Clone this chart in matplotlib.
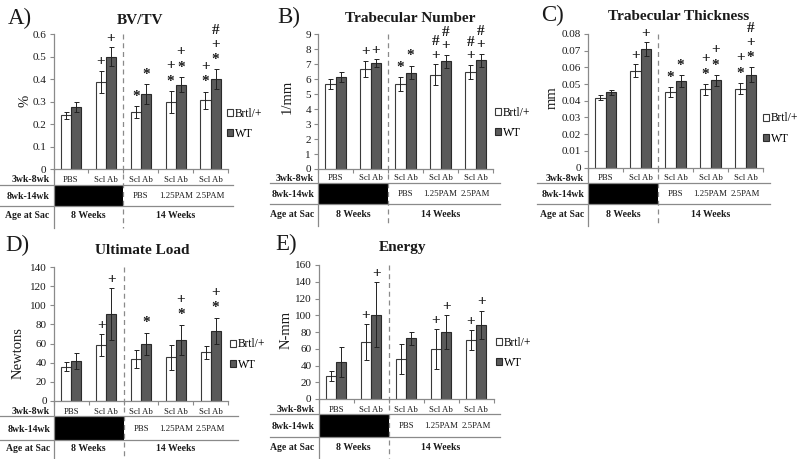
import matplotlib
matplotlib.use('Agg')
import matplotlib.pyplot as plt
from matplotlib.lines import Line2D
from matplotlib.patches import Rectangle
from matplotlib.textpath import TextPath
from matplotlib.font_manager import FontProperties
import matplotlib.transforms as mtransforms
import numpy as np

plt.rcParams['font.family'] = ['Liberation Serif', 'DejaVu Serif']

W, H = 800, 459

# ---------------- data ----------------
series = ['Brtl/+', 'WT']
row1 = ['PBS', 'Scl Ab', 'Scl Ab', 'Scl Ab', 'Scl Ab']
row2 = ['', '', 'PBS', '1.25PAM', '2.5PAM']
row_labels = ['3wk-8wk', '8wk-14wk', 'Age at Sac']
ages = ['8 Weeks', '14 Weeks']

bvtv_brtl = [0.240, 0.387, 0.255, 0.298, 0.307]
bvtv_brtl_err = [0.015, 0.050, 0.027, 0.050, 0.038]
bvtv_wt = [0.278, 0.500, 0.333, 0.376, 0.401]
bvtv_wt_err = [0.022, 0.042, 0.044, 0.034, 0.043]
bvtv_brtl_sig = ['', '+', '*', '*+', '*+']
bvtv_wt_sig = ['', '+', '*', '*+', '*+#']

tbn_brtl = [5.69, 6.71, 5.67, 6.31, 6.49]
tbn_brtl_err = [0.33, 0.53, 0.49, 0.69, 0.49]
tbn_wt = [6.16, 7.09, 6.44, 7.20, 7.27]
tbn_wt_err = [0.33, 0.26, 0.46, 0.44, 0.44]
tbn_brtl_sig = ['', '+', '*', '+#', '+#']
tbn_wt_sig = ['', '+', '*', '+#', '+#']

tbth_brtl = [0.0418, 0.0579, 0.0452, 0.0468, 0.0472]
tbth_brtl_err = [0.0015, 0.0039, 0.0030, 0.0032, 0.0034]
tbth_wt = [0.0452, 0.0709, 0.0517, 0.0523, 0.0557]
tbth_wt_err = [0.0015, 0.0043, 0.0035, 0.0032, 0.0043]
tbth_brtl_sig = ['', '+', '*', '*+', '*+']
tbth_wt_sig = ['', '+', '*', '*+', '*+#']

load_brtl = [35.4, 58.4, 43.4, 45.5, 50.7]
load_brtl_err = [4.7, 11.5, 9.3, 12.8, 6.8]
load_wt = [41.6, 91.0, 59.5, 63.7, 73.2]
load_wt_err = [8.7, 27.0, 12.0, 16.0, 13.8]
load_brtl_sig = ['', '+', '', '', '']
load_wt_sig = ['', '+', '*', '*+', '*+']

energy_brtl = [27.5, 67.7, 48.2, 59.7, 70.0]
energy_brtl_err = [6.0, 21.3, 18.0, 23.5, 12.0]
energy_wt = [44.2, 100.7, 72.4, 80.0, 88.4]
energy_wt_err = [17.5, 39.0, 8.0, 20.0, 17.0]
energy_brtl_sig = ['', '+', '', '+', '+']
energy_wt_sig = ['', '+', '', '+', '+']

# ---------------- style / layout ----------------
GRAY = '#8a8a8a'
DARK = '#5a5a5a'
TXT = '#1a1a1a'
BAR_W = 0.29
SIG_FS = 11

panels = [
    dict(label='A)', title='BV/TV', ylabel='%',
         brtl=bvtv_brtl, brtl_err=bvtv_brtl_err, wt=bvtv_wt, wt_err=bvtv_wt_err,
         brtl_sig=bvtv_brtl_sig, wt_sig=bvtv_wt_sig, ymax=0.6, ystep=0.1,
         ax_px=(53.5, 228, 34.2, 169.3), lab_px=(8, 18), title_px=(140, 20),
         ylab_px=(25, 101), leg_px=(227, 124),
         tab=dict(r1=180, l1=185, l2=206, r3=215.5, bot=228, x0=0, x1=233)),
    dict(label='B)', title='Trabecular Number', ylabel='1/mm',
         brtl=tbn_brtl, brtl_err=tbn_brtl_err, wt=tbn_wt, wt_err=tbn_wt_err,
         brtl_sig=tbn_brtl_sig, wt_sig=tbn_wt_sig, ymax=9, ystep=1,
         ax_px=(318, 493, 34.3, 169), lab_px=(277, 17), title_px=(410, 19),
         ylab_px=(287, 97), leg_px=(495, 123),
         tab=dict(r1=178.5, l1=183, l2=204, r3=215, bot=226, x0=270, x1=500)),
    dict(label='C)', title='Trabecular Thickness', ylabel='mm',
         brtl=tbth_brtl, brtl_err=tbth_brtl_err, wt=tbth_wt, wt_err=tbth_wt_err,
         brtl_sig=tbth_brtl_sig, wt_sig=tbth_wt_sig, ymax=0.08, ystep=0.01,
         ax_px=(588, 763, 34, 167.5), lab_px=(541, 15), title_px=(679, 17),
         ylab_px=(552, 98), leg_px=(763, 128.5),
         tab=dict(r1=178.5, l1=183, l2=204, r3=215, bot=226, x0=537, x1=770)),
    dict(label='D)', title='Ultimate Load', ylabel='Newtons',
         brtl=load_brtl, brtl_err=load_brtl_err, wt=load_wt, wt_err=load_wt_err,
         brtl_sig=load_brtl_sig, wt_sig=load_wt_sig, ymax=140, ystep=20,
         ax_px=(54, 228, 267.3, 400.7), lab_px=(5, 245), title_px=(142, 251),
         ylab_px=(18, 353), leg_px=(230, 354.5),
         tab=dict(r1=411.5, l1=416, l2=440, r3=448.5, bot=458, x0=0, x1=238)),
    dict(label='E)', title='Energy', ylabel='N-mm',
         brtl=energy_brtl, brtl_err=energy_brtl_err, wt=energy_wt, wt_err=energy_wt_err,
         brtl_sig=energy_brtl_sig, wt_sig=energy_wt_sig, ymax=160, ystep=20,
         ax_px=(318.5, 493.5, 265, 399), lab_px=(275, 244), title_px=(403, 247),
         ylab_px=(286, 330), leg_px=(496, 353),
         tab=dict(r1=409.5, l1=414, l2=437, r3=448, bot=458, x0=270, x1=500)),
]

fig = plt.figure(figsize=(W / 100, H / 100), dpi=100)


def fx(x):
    return x / W


def fy(y):
    return 1 - y / H


sig_prop = FontProperties(family='Liberation Serif', weight='bold', size=SIG_FS)


def ink_center(sym):
    ext = TextPath((0, 0), sym, size=SIG_FS, prop=sig_prop).get_extents()
    return (ext.y0 + ext.y1) / 2


def fmt_tick(v):
    if abs(v) < 1e-12:
        return '0'
    return '{:g}'.format(round(v, 6))


for p in panels:
    l, r, t, b = p['ax_px']
    ax = fig.add_axes([fx(l), fy(b), (r - l) / W, (b - t) / H])
    n = len(row1)
    x = np.arange(n)
    ax.bar(x - BAR_W / 2, p['brtl'], BAR_W, color='white', edgecolor='#3a3a3a',
           linewidth=0.8, label=series[0], zorder=2)
    ax.bar(x + BAR_W / 2, p['wt'], BAR_W, color=DARK, edgecolor='#2a2a2a',
           linewidth=0.8, label=series[1], zorder=2)
    ax.errorbar(x - BAR_W / 2, p['brtl'], yerr=p['brtl_err'], fmt='none',
                ecolor='#222222', elinewidth=0.7, capsize=1.8, capthick=0.7, zorder=3)
    ax.errorbar(x + BAR_W / 2, p['wt'], yerr=p['wt_err'], fmt='none',
                ecolor='#222222', elinewidth=0.7, capsize=1.8, capthick=0.7, zorder=3)

    ax.set_xlim(-0.5, n - 0.5)
    ax.set_ylim(0, p['ymax'])
    yt = np.arange(0, p['ymax'] + p['ystep'] / 2, p['ystep'])
    ax.set_yticks(yt)
    ax.set_yticklabels([fmt_tick(v) for v in yt])
    ax.set_xticks(np.arange(-0.5, n, 1.0))
    ax.set_xticklabels([])
    ax.tick_params(axis='y', direction='out', length=3, width=0.8, color=GRAY,
                   labelsize=8, pad=2, labelcolor=TXT)
    ax.tick_params(axis='x', direction='out', length=3, width=0.8, color=GRAY)
    for s in ('top', 'right'):
        ax.spines[s].set_visible(False)
    for s in ('left', 'bottom'):
        ax.spines[s].set_color(GRAY)
        ax.spines[s].set_linewidth(0.9)
    ax.patch.set_alpha(0)

    # significance symbols stacked above error bars
    px2pt = 0.72
    for vals, errs, sigs, off in ((p['brtl'], p['brtl_err'], p['brtl_sig'], -BAR_W / 2),
                                  (p['wt'], p['wt_err'], p['wt_sig'], BAR_W / 2)):
        for i, s in enumerate(sigs):
            if not s:
                continue
            base = vals[i] + errs[i]
            first = 13.5 if s[0] == '*' else 10.5
            for k, sym in enumerate(s):
                cpx = first + k * 13.3
                ax.annotate(sym, xy=(i + off, base),
                            xytext=(0, cpx * px2pt - ink_center(sym)),
                            textcoords='offset points', ha='center', va='baseline',
                            fontsize=SIG_FS, fontweight='bold', color=TXT,
                            annotation_clip=False)

    # legend
    lx, ly = p['leg_px']
    ax.legend(loc='center left', bbox_to_anchor=(fx(lx), fy(ly)),
              bbox_transform=fig.transFigure, frameon=False, fontsize=8.3,
              handlelength=0.55, handleheight=0.55, handletextpad=0.15,
              borderpad=0, borderaxespad=0, labelspacing=0.7)

    # panel label, title, ylabel
    fig.text(fx(p['lab_px'][0]), fy(p['lab_px'][1]), p['label'], ha='left',
             va='center', fontsize=16.5, color=TXT)
    fig.text(fx(p['title_px'][0]), fy(p['title_px'][1]), p['title'], ha='center',
             va='center', fontsize=11, fontweight='bold', color=TXT)
    fig.text(fx(p['ylab_px'][0]), fy(p['ylab_px'][1]), p['ylabel'], ha='center',
             va='center', rotation=90, fontsize=10.5, color=TXT)

    # treatment table below the axis
    tb = p['tab']
    bt = mtransforms.blended_transform_factory(ax.transData, fig.transFigure)
    for yy in (tb['l1'], tb['l2']):
        fig.add_artist(Line2D([fx(tb['x0']), fx(tb['x1'])], [fy(yy), fy(yy)],
                              transform=fig.transFigure, color=GRAY, lw=0.9))
    fig.add_artist(Line2D([fx(l), fx(l)], [fy(b), fy(tb['bot'])],
                          transform=fig.transFigure, color=GRAY, lw=0.9))
    fig.add_artist(Rectangle((-0.5, fy(tb['l2'])), 2.0, fy(tb['l1']) - fy(tb['l2']),
                             transform=bt, facecolor='black', edgecolor='none'))
    fig.add_artist(Line2D([1.5, 1.5], [fy(t), fy(tb['bot'])], transform=bt,
                          color=GRAY, lw=0.9, linestyle=(0, (4, 3))))
    r2y = (tb['l1'] + tb['l2']) / 2 + 1
    for yy, lab in zip((tb['r1'], r2y, tb['r3']), row_labels):
        fig.text(fx(l - 4), fy(yy), lab, ha='right', va='center', fontsize=7,
                 fontweight='bold', color=TXT)
    for i, s in enumerate(row1):
        fig.text(i, fy(tb['r1']), s, transform=bt, ha='center', va='center',
                 fontsize=6.3, color=TXT)
    for i, s in enumerate(row2):
        if s:
            fig.text(i, fy(r2y), s, transform=bt, ha='center', va='center',
                     fontsize=6.3, color=TXT)
    fig.text(0.5, fy(tb['r3']), ages[0], transform=bt, ha='center', va='center',
             fontsize=7, fontweight='bold', color=TXT)
    fig.text(3.0, fy(tb['r3']), ages[1], transform=bt, ha='center', va='center',
             fontsize=7, fontweight='bold', color=TXT)

fig.savefig('out.png', dpi=100, facecolor='white')
